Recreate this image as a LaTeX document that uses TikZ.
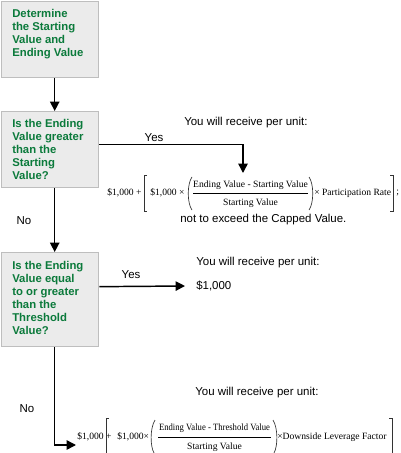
\documentclass[tikz,border=0pt]{standalone}
\usepackage{fontspec}
\setmainfont{Liberation Sans}
\newfontfamily\tms{Liberation Serif}
\usetikzlibrary{arrows.meta}
\definecolor{boxgreen}{HTML}{0B7A3B}
\definecolor{boxfill}{HTML}{EBEBEB}
\definecolor{boxline}{HTML}{BEBEBE}
\begin{document}
\begin{tikzpicture}[x=0.75pt,y=-0.75pt,
  box/.style={draw=boxline,fill=boxfill,line width=1pt,inner sep=0,minimum width=72.75pt,anchor=north west},
  boxtext/.style={anchor=north west,inner sep=0,align=left,text=boxgreen,font=\fontsize{8.5}{9.75}\selectfont\bfseries},
  lbl/.style={inner sep=0,font=\fontsize{8.6}{10}\selectfont},
  fml/.style={inner sep=0,font=\fontsize{7.2}{8}\selectfont\tms},
  arr/.style={line width=1.1pt,-{Triangle[length=7pt,width=7pt]}},
  delim/.style={line width=0.5pt,draw=black!80}]
\useasboundingbox (0,0) rectangle (400,453);
% boxes
\node[box,minimum height=57pt] (b1) at (1,1) {};
\node[box,minimum height=57pt] (b2) at (1,111) {};
\node[box,minimum height=70.5pt] (b3) at (1,252) {};
\node[boxtext] (t1) at (12,9) {Determine\\the Starting\\Value and\\Ending Value};
\node[boxtext] (t2) at (12,119) {Is the Ending\\Value greater\\than the\\Starting\\Value?};
\node[boxtext] (t3) at (12,261) {Is the Ending\\Value equal\\to or greater\\than the\\Threshold\\Value?};
% connectors
\coordinate (f1in) at (243,173);
\coordinate (m1in) at (185,286);
\coordinate (f2in) at (76,445);
\draw[arr] ([xshift=3.4pt]b1.south) -- ([xshift=3.4pt]b2.north);
\draw[arr] ([xshift=3.4pt]b2.south) -- ([xshift=3.4pt]b3.north);
\draw[arr] ([yshift=3.75pt]b2.east) -| (f1in);
\draw[arr] ([yshift=9.75pt]b3.east) -- (m1in);
\draw[arr] ([xshift=3.4pt]b3.south) |- (f2in);
% labels
\node[lbl] (yes1) at (154,138) {Yes};
\node[lbl] (yes2) at (131,275) {Yes};
\node[lbl] (no1) at (24,221) {No};
\node[lbl] (no2) at (27,409) {No};
\node[lbl,anchor=west] (r1) at (184,123) {You will receive per unit:};
\node[lbl,anchor=west] (r2) at (196,263) {You will receive per unit:};
\node[lbl,anchor=west] (r3) at (195,393) {You will receive per unit:};
\node[lbl,anchor=west] (m1) at (196,286) {\$1,000};
\node[lbl,anchor=west] (cap) at (180,220) {not to exceed the Capped Value.};
% formula 1
\node[fml,anchor=west] (f1a) at (107,193) {\$1,000 +};
\draw[delim] (147,175) -- (144,175) -- (144,211) -- (147,211);
\node[fml,anchor=west] (f1b) at (150,193) {\$1,000 ×};
\draw[delim] (192,177) .. controls (187,184) and (187,203) .. (192,210);
\node[fml] (f1n) at (250.5,185) {Ending Value - Starting Value};
\draw[line width=0.5pt] (193,193) -- (308,193);
\node[fml] (f1d) at (250.5,203) {Starting Value};
\draw[delim] (309,177) .. controls (314,184) and (314,203) .. (309,210);
\node[fml,anchor=west] (f1c) at (314,193) {× Participation Rate};
\draw[delim] (390,175) -- (393,175) -- (393,211) -- (390,211);
\node[fml,anchor=west] (f1s) at (396,193) {;};
% formula 2
\node[fml,anchor=west] (f2a) at (77,437) {\$1,000 +};
\draw[delim] (109,418) -- (106,418) -- (106,453);
\node[fml,anchor=west] (f2b) at (117,437) {\$1,000×};
\draw[delim] (155,420) .. controls (150,428) and (150,446) .. (154,453);
\node[fml] (f2n) at (214.5,428) {\scalebox{0.9}[1]{Ending Value - Threshold Value}};
\draw[line width=0.5pt] (158,437) -- (271,437);
\node[fml] (f2d) at (214.5,447) {Starting Value};
\draw[delim] (273,420) .. controls (278,428) and (278,446) .. (274,453);
\node[fml,anchor=west] (f2c) at (277,437) {×Downside Leverage Factor};
\draw[delim] (389,418) -- (392,418) -- (392,453);
\end{tikzpicture}
\end{document}
